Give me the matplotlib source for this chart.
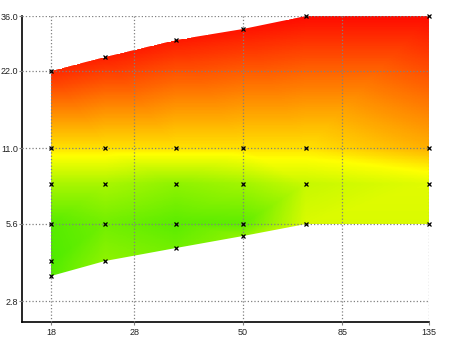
import numpy as np
import matplotlib
matplotlib.use("Agg")
import matplotlib.pyplot as plt
import matplotlib.tri as mtri
from matplotlib.colors import LinearSegmentedColormap
from matplotlib.patches import Polygon
from matplotlib.ticker import FixedLocator, FixedFormatter, NullLocator

plt.rcParams.update({"font.family": "Liberation Sans", "font.size": 6.5})

# sampled columns (x) with their y rows and the shaded value at each point
X_COLS = [18, 24, 35, 50, 70, 135]
COL_Y = [
    [3.5, 4.0, 5.6, 8.0, 11.0, 22.0],
    [4.0, 5.6, 8.0, 11.0, 25.0],
    [4.5, 5.6, 8.0, 11.0, 29.0],
    [5.0, 5.6, 8.0, 11.0, 32.0],
    [5.6, 8.0, 11.0, 36.0],
    [5.6, 8.0, 11.0, 36.0],
]
COL_Z = [
    [0.05, 0.03, 0.05, 0.27, 0.56, 0.94],
    [0.20, 0.12, 0.27, 0.56, 0.96],
    [0.12, 0.06, 0.20, 0.56, 0.97],
    [0.20, 0.07, 0.25, 0.56, 0.98],
    [0.40, 0.35, 0.56, 1.00],
    [0.40, 0.42, 0.66, 1.00],
]
XTICKS = [18, 28, 50, 85, 135]
YTICKS = [2.8, 5.6, 11.0, 22.0, 36.0]
YTICKLABELS = ["2.8", "5.6", "11.0", "22.0", "36.0"]

cmap = LinearSegmentedColormap.from_list(
    "gyr", [(0.0, "#44ea00"), (0.5, "#ffff00"), (1.0, "#ff0a00")])

px = np.concatenate([[x] * len(ys) for x, ys in zip(X_COLS, COL_Y)]).astype(float)
py = np.concatenate(COL_Y)
pz = np.concatenate(COL_Z)

# triangulate in (display-like) log space
def to_screen(x, y):
    return np.log(x) / np.log(135 / 18) * 378, np.log(y) / np.log(36 / 2.8) * 285

tri = mtri.Triangulation(*to_screen(px, py))
interp = mtri.LinearTriInterpolator(tri, pz)

gx = np.exp(np.linspace(np.log(min(X_COLS)), np.log(max(X_COLS)), 420))
gy = np.exp(np.linspace(np.log(py.min()), np.log(py.max()), 330))
GX, GY = np.meshgrid(gx, gy)
GZ = interp(*to_screen(GX, GY))

fig = plt.figure(figsize=(4.5, 3.37), dpi=100)
ax = fig.add_axes([22 / 450, 1 - 322 / 337, (429 - 22) / 450, (322 - 16) / 337])
ax.set_xscale("log")
ax.set_yscale("log")

mesh = ax.pcolormesh(GX, GY, GZ, cmap=cmap, vmin=0, vmax=1, shading="nearest",
                     antialiased=False, linewidth=0, rasterized=True, zorder=1)
top = [(x, max(ys)) for x, ys in zip(X_COLS, COL_Y)]
bot = [(x, min(ys)) for x, ys in zip(X_COLS, COL_Y)]
clip = Polygon(top + bot[::-1], closed=True, transform=ax.transData,
               facecolor="none", edgecolor="none")
ax.add_patch(clip)
mesh.set_clip_path(clip)

ax.plot(px, py, "x", color="black", ms=2.8, mew=0.9, clip_on=False, zorder=4)

ax.set_xlim(15.4, 135)
ax.set_ylim(2.32, 36)
ax.xaxis.set_major_locator(FixedLocator(XTICKS))
ax.xaxis.set_major_formatter(FixedFormatter([str(t) for t in XTICKS]))
ax.yaxis.set_major_locator(FixedLocator(YTICKS))
ax.yaxis.set_major_formatter(FixedFormatter(YTICKLABELS))
ax.xaxis.set_minor_locator(NullLocator())
ax.yaxis.set_minor_locator(NullLocator())

ax.set_axisbelow(False)
ax.grid(True, color="0.5", ls=":", lw=0.9)
for s in ["top", "right"]:
    ax.spines[s].set_visible(False)
for s in ["left", "bottom"]:
    ax.spines[s].set_linewidth(1.2)
ax.tick_params(length=2, width=0.8, color="0.5", pad=0.8, labelcolor="#222222")
ax.tick_params(axis="x", pad=2)

fig.savefig("out.png", dpi=100, facecolor="white")
